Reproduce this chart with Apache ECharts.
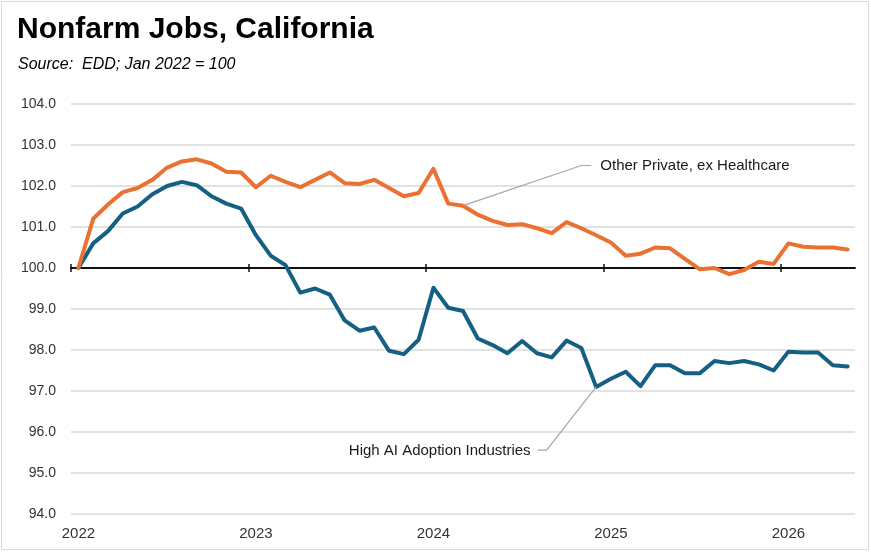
<!DOCTYPE html>
<html>
<head>
<meta charset="utf-8">
<script src="https://cdn.jsdelivr.net/npm/echarts@6/dist/echarts.min.js"></script>
<style>
  html, body { margin: 0; padding: 0; background: #fff; }
  #main { width: 871px; height: 552px; }
</style>
</head>
<body>
<div id="main"></div>
<script>
// months Jan 2022 .. May 2026
var months = [
    '2022-01','2022-02','2022-03','2022-04','2022-05','2022-06','2022-07','2022-08','2022-09','2022-10','2022-11','2022-12',
    '2023-01','2023-02','2023-03','2023-04','2023-05','2023-06','2023-07','2023-08','2023-09','2023-10','2023-11','2023-12',
    '2024-01','2024-02','2024-03','2024-04','2024-05','2024-06','2024-07','2024-08','2024-09','2024-10','2024-11','2024-12',
    '2025-01','2025-02','2025-03','2025-04','2025-05','2025-06','2025-07','2025-08','2025-09','2025-10','2025-11','2025-12',
    '2026-01','2026-02','2026-03','2026-04','2026-05'
];

var otherPrivate = [
    100.0, 101.2, 101.55, 101.85, 101.95, 102.15, 102.45, 102.6, 102.65, 102.55, 102.35, 102.33,
    101.97, 102.25, 102.1, 101.97, 102.15, 102.33, 102.07, 102.05, 102.15, 101.95, 101.75, 101.83,
    102.42, 101.57, 101.52, 101.3, 101.15, 101.05, 101.07, 100.97, 100.85, 101.12, 100.97, 100.8,
    100.62, 100.3, 100.35, 100.5, 100.48, 100.22, 99.97, 100.0, 99.85, 99.95, 100.15, 100.1,
    100.6, 100.52, 100.5, 100.5, 100.45
];

var highAI = [
    100.0, 100.6, 100.9, 101.33, 101.5, 101.8, 102.0, 102.1, 102.02, 101.75, 101.57, 101.45,
    100.8, 100.3, 100.07, 99.4, 99.5, 99.35, 98.72, 98.47, 98.55, 97.98, 97.9, 98.25,
    99.52, 99.03, 98.95, 98.28, 98.12, 97.92, 98.22, 97.92, 97.82, 98.23, 98.05, 97.1,
    97.3, 97.47, 97.12, 97.63, 97.63, 97.43, 97.43, 97.73, 97.68, 97.73, 97.65, 97.5,
    97.96, 97.94, 97.94, 97.63, 97.6
];

// year boundaries (between Dec and Jan), in month-index units
var yearTicks = [-0.5, 11.5, 23.5, 35.5, 47.5];

var orange = '#E97132';
var blue = '#156082';
var font = 'Liberation Sans, Arial, sans-serif';

var myChart = echarts.init(document.getElementById('main'));

myChart.setOption({
    animation: false,
    title: [{
        text: 'Nonfarm Jobs, California',
        left: 12, top: 10,
        textStyle: { fontFamily: font, fontSize: 30, fontWeight: 'bold', color: '#000' }
    }, {
        text: 'Source:  EDD; Jan 2022 = 100',
        left: 13, top: 52,
        textStyle: { fontFamily: font, fontSize: 16, fontStyle: 'italic', fontWeight: 'normal', color: '#000' }
    }],
    grid: { left: 71, right: 16, top: 104, bottom: 38 },
    xAxis: [{
        type: 'category',
        data: months,
        boundaryGap: true,
        position: 'bottom',
        axisLine: { show: false },
        axisTick: { show: false },
        axisLabel: {
            interval: 11,
            margin: 12,
            fontFamily: font, fontSize: 15, color: '#333',
            formatter: function(v) { return v.slice(0, 4); }
        }
    }, {
        // axis line crossing at 100, ticks below
        type: 'value',
        min: -0.5, max: 52.5,
        position: 'bottom',
        offset: -246,
        axisLine: { show: true, lineStyle: { color: '#111', width: 2 } },
        axisTick: { show: true, length: 4, customValues: yearTicks, lineStyle: { color: '#111', width: 1.5 } },
        axisLabel: { show: false },
        splitLine: { show: false }
    }, {
        // ticks above the 100 line
        type: 'value',
        min: -0.5, max: 52.5,
        position: 'bottom',
        offset: -246,
        axisLine: { show: false },
        axisTick: { show: true, inside: true, length: 4, customValues: yearTicks, lineStyle: { color: '#111', width: 1.5 } },
        axisLabel: { show: false },
        splitLine: { show: false }
    }],
    yAxis: {
        type: 'value',
        min: 94, max: 104, interval: 1,
        axisLine: { show: false },
        axisTick: { show: false },
        axisLabel: {
            margin: 15,
            fontFamily: font, fontSize: 14, color: '#333',
            formatter: function(v) { return v.toFixed(1); }
        },
        splitLine: { lineStyle: { color: '#d9d9d9', width: 1.5 } }
    },
    series: [{
        name: 'High AI Adoption Industries',
        type: 'line',
        data: highAI,
        symbol: 'none',
        lineStyle: { color: blue, width: 4, cap: 'round', join: 'round' }
    }, {
        name: 'Other Private, ex Healthcare',
        type: 'line',
        data: otherPrivate,
        symbol: 'none',
        lineStyle: { color: orange, width: 4, cap: 'round', join: 'round' }
    }]
});

// leader lines and labels, placed from data coordinates
function px(i, v) {
    return myChart.convertToPixel({ xAxisIndex: 1, yAxisIndex: 0 }, [i, v]);
}
var o0 = px(26, otherPrivate[26]);
var o1 = px(34.0, 102.5);
var b0 = px(35, highAI[35]);
var b1 = px(31.65, 95.56);

myChart.setOption({
    graphic: [{
        type: 'rect',
        shape: { x: 1.5, y: 1.5, width: 867, height: 548 },
        style: { fill: 'none', stroke: '#d9d9d9', lineWidth: 1 },
        silent: true
    }, {
        type: 'polyline',
        shape: { points: [o0, o1, [o1[0] + 10, o1[1]]] },
        style: { fill: 'none', stroke: '#a6a6a6', lineWidth: 1.2 },
        z: 10
    }, {
        type: 'text',
        x: o1[0] + 19, y: o1[1],
        style: { text: 'Other Private, ex Healthcare', fontFamily: font, fontSize: 15, fill: '#1a1a1a', textVerticalAlign: 'middle' },
        z: 10
    }, {
        type: 'polyline',
        shape: { points: [b0, b1, [b1[0] - 9, b1[1]]] },
        style: { fill: 'none', stroke: '#a6a6a6', lineWidth: 1.2 },
        z: 10
    }, {
        type: 'text',
        x: b1[0] - 16, y: b1[1] + 1,
        style: { text: 'High AI Adoption Industries', fontFamily: font, fontSize: 15, fill: '#1a1a1a', textAlign: 'right', textVerticalAlign: 'middle' },
        z: 10
    }]
});
</script>
</body>
</html>
